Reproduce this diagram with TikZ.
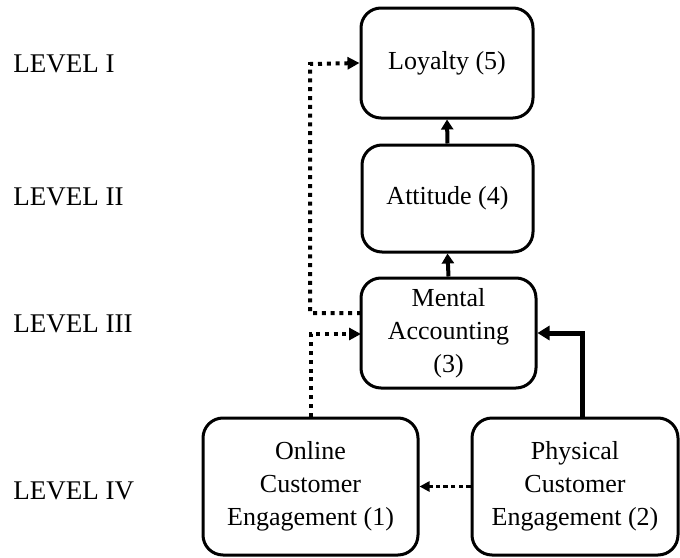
\documentclass[tikz,border=0pt]{standalone}
\usepackage{fontspec}
\setmainfont{Liberation Serif}
\usetikzlibrary{arrows.meta}
\begin{document}
\begin{tikzpicture}[x=0.5pt,y=-0.5pt,
  box/.style={draw,line width=1.5pt,rounded corners=10pt,align=center,
    font=\fontsize{13}{16.5}\selectfont,inner sep=2pt},
  lvl/.style={anchor=west,font=\fontsize{13.5}{16}\selectfont,inner sep=0pt},
  solidarr/.style={line width=2pt,-{Triangle[length=5pt,width=6pt]}},
  thickarr/.style={line width=2.5pt,-{Triangle[length=6pt,width=7pt]}},
  dotarr/.style={line width=2pt,dash pattern=on 2pt off 2.4pt,-{Triangle[length=6pt,width=6pt]}},
  dasharr/.style={line width=1.4pt,dash pattern=on 2.2pt off 1.6pt,-{Triangle[length=5pt,width=5pt]}}]
\useasboundingbox (0,0) rectangle (680,557);
\node[box,minimum width=86pt,minimum height=55pt] (loy) at (447,63) {Loyalty (5)};
\node[box,minimum width=85.5pt,minimum height=53.5pt] (att) at (447.5,198.5) {Attitude (4)};
\node[box,minimum width=87.5pt,minimum height=55pt] (ment) at (448.5,333) {Mental\\Accounting\\(3)};
\node[box,minimum width=107.5pt,minimum height=68.5pt] (onl) at (310.5,486.5) {Online\\Customer\\Engagement (1)};
\node[box,minimum width=103pt,minimum height=68.5pt] (phy) at (575,486.5) {Physical\\Customer\\Engagement (2)};
\node[lvl] (l1) at (13,64) {LEVEL I};
\node[lvl] (l2) at (13,197) {LEVEL II};
\node[lvl] (l3) at (13,324) {LEVEL III};
\node[lvl] (l4) at (13,491) {LEVEL IV};
\coordinate (pA) at (582,335);
\coordinate (mA) at (361,334);
\coordinate (mB) at (361,313);
\coordinate (vB) at (310,313);
\coordinate (vT) at (310,64);
\draw[solidarr] (att.north) -- (loy.south);
\draw[solidarr] (ment.north) -- (att.south);
\draw[thickarr] (phy.north -| pA) |- (ment.east);
\draw[dotarr] (onl.north) |- (mA);
\draw[dotarr] (mB) -- (vB) -- (vT) -- (loy.west);
\draw[dasharr] (phy.west) -- (onl.east);
\end{tikzpicture}
\end{document}
